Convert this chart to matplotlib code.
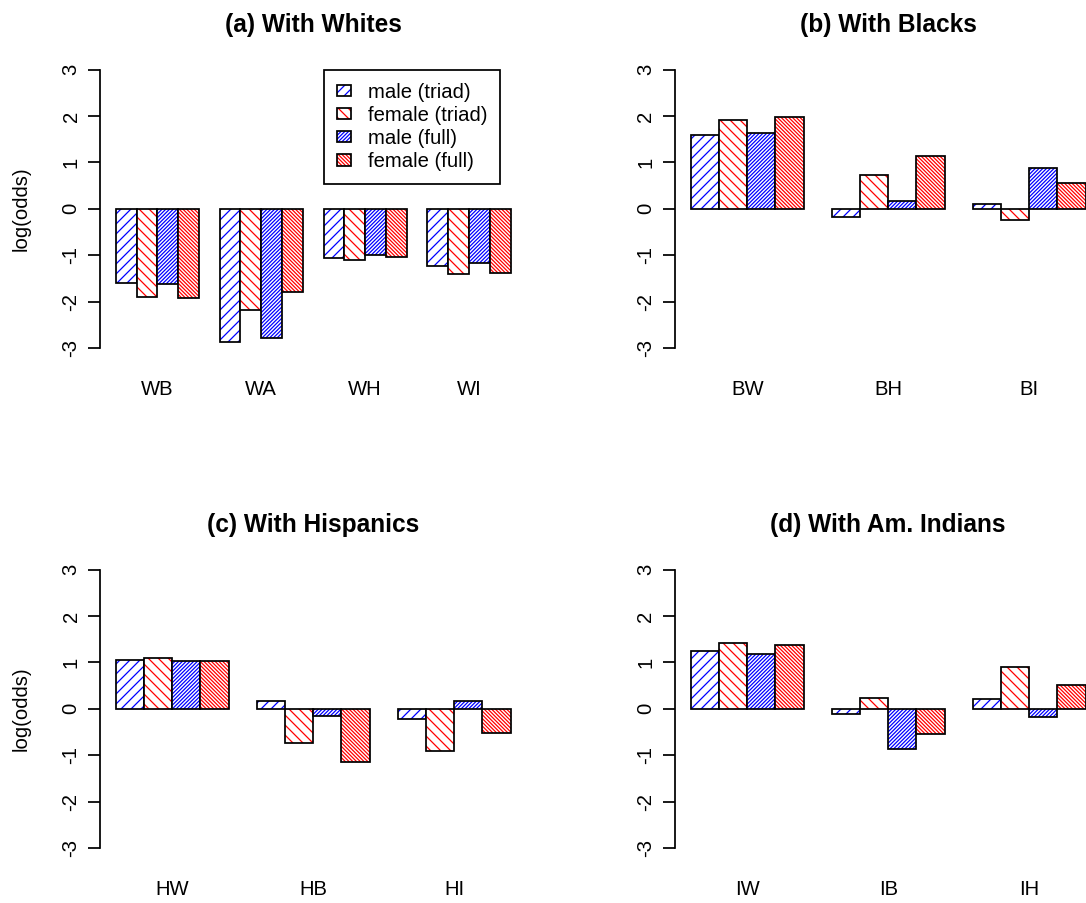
import matplotlib
matplotlib.use("Agg")
import matplotlib.pyplot as plt
from matplotlib.patches import Patch
from matplotlib.legend_handler import HandlerTuple

plt.rcParams['font.family'] = ['Liberation Sans', 'DejaVu Sans']
plt.rcParams['hatch.linewidth'] = 1.0
plt.rcParams['axes.unicode_minus'] = False

DPI = 90
W, H = 1086, 903

series = ['male (triad)', 'female (triad)', 'male (full)', 'female (full)']
colors = ['blue', 'red', 'blue', 'red']
hatches = ['/' * 3, '\\' * 3, '/' * 8, '\\' * 8]

# one row per series, one column per pair
whites_labels = ['WB', 'WA', 'WH', 'WI']
whites_vals = [[-1.59, -2.86, -1.06, -1.23],
               [-1.89, -2.18, -1.10, -1.41],
               [-1.62, -2.79, -1.00, -1.17],
               [-1.92, -1.79, -1.03, -1.38]]

blacks_labels = ['BW', 'BH', 'BI']
blacks_vals = [[1.59, -0.18, 0.11],
               [1.91, 0.73, -0.25],
               [1.63, 0.17, 0.87],
               [1.97, 1.14, 0.56]]

hisp_labels = ['HW', 'HB', 'HI']
hisp_vals = [[1.06, 0.17, -0.21],
             [1.10, -0.73, -0.90],
             [1.03, -0.16, 0.17],
             [1.03, -1.15, -0.52]]

ind_labels = ['IW', 'IB', 'IH']
ind_vals = [[1.24, -0.11, 0.21],
            [1.41, 0.24, 0.90],
            [1.18, -0.87, -0.18],
            [1.38, -0.55, 0.51]]

fs = 16.2
lw = 1.4
plot_w, plot_h = 426.4, 300.7

fig = plt.figure(figsize=(W / DPI, H / DPI), dpi=DPI)


def panel(left, top, labels, vals, title, ylabel=None):
    ax = fig.add_axes([left / W, 1 - (top + plot_h) / H, plot_w / W, plot_h / H])
    n = len(labels)
    for k in range(4):
        xs = [1 + 5 * g + k for g in range(n)]
        ax.bar(xs, vals[k], width=1, align='edge', color='white',
               edgecolor=colors[k], hatch=hatches[k], linewidth=0)
        ax.bar(xs, vals[k], width=1, align='edge', fill=False,
               edgecolor='black', linewidth=lw)
    hi = 5 * n
    pad = 0.04 * (hi - 1)
    ax.set_xlim(1 - pad, hi + pad)
    ax.set_ylim(-3.24, 3.24)
    for s in ['top', 'right', 'bottom']:
        ax.spines[s].set_visible(False)
    ax.spines['left'].set_bounds(-3, 3)
    ax.spines['left'].set_linewidth(lw)
    ax.set_yticks(range(-3, 4))
    ax.tick_params(axis='y', length=9.6, width=lw, pad=6, labelsize=fs)
    for t in ax.get_yticklabels():
        t.set_rotation(90)
        t.set_va('center')
    ax.set_xticks([3 + 5 * g for g in range(n)], labels)
    ax.tick_params(axis='x', length=0, pad=17, labelsize=fs)
    ax.set_title(title, fontsize=19.6, fontweight='bold', pad=21.5)
    if ylabel:
        ax.set_ylabel(ylabel, fontsize=fs)
        ax.yaxis.set_label_coords(-0.162, 0.5)
    return ax


ax_a = panel(100, 58.5, whites_labels, whites_vals, '(a) With Whites', 'log(odds)')
panel(675, 58.5, blacks_labels, blacks_vals, '(b) With Blacks')
panel(100, 558.5, hisp_labels, hisp_vals, '(c) With Hispanics', 'log(odds)')
panel(675, 558.5, ind_labels, ind_vals, '(d) With Am. Indians')

handles = [(Patch(facecolor='white', edgecolor=c, hatch=h, linewidth=0),
            Patch(fill=False, edgecolor='black', linewidth=lw))
           for c, h in zip(colors, hatches)]
leg = ax_a.legend(handles, series, loc='upper left', bbox_to_anchor=(11.0, 3.0),
                  bbox_transform=ax_a.transData, borderaxespad=0, fontsize=fs,
                  fancybox=False, edgecolor='black', framealpha=1,
                  handlelength=0.72, handleheight=0.5, handletextpad=0.8,
                  borderpad=0.65, labelspacing=0.2,
                  handler_map={tuple: HandlerTuple(ndivide=1)})
leg.get_frame().set_linewidth(lw)

fig.savefig('out.png', dpi=DPI)
